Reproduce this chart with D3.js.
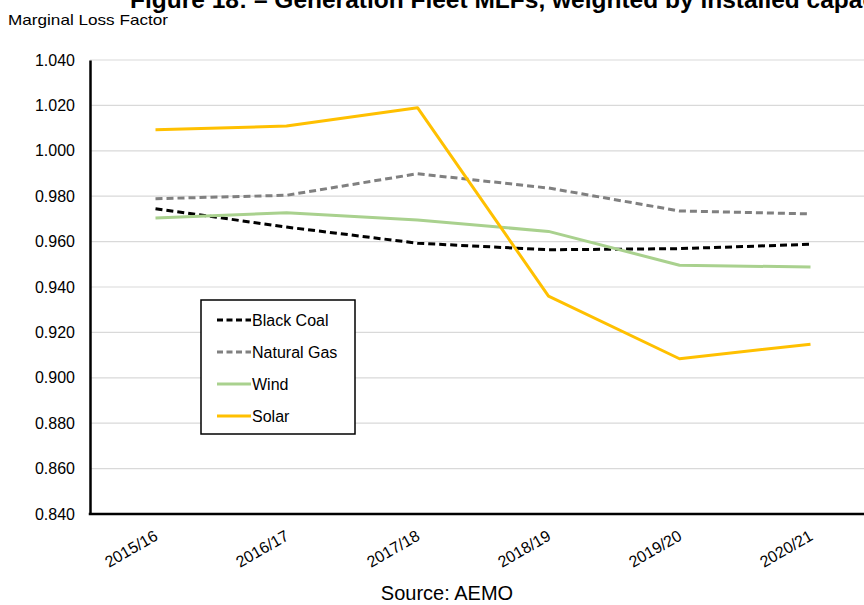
<!DOCTYPE html>
<html>
<head>
<meta charset="utf-8">
<script src="https://cdn.jsdelivr.net/npm/d3@7"></script>
<style>
  html, body { margin: 0; padding: 0; background: #fff; }
  svg { display: block; font-family: "Liberation Sans", Arial, sans-serif; }
</style>
</head>
<body>
<svg id="chart" width="864" height="605"></svg>
<script>
// Financial years on the x axis
const years = ["2015/16", "2016/17", "2017/18", "2018/19", "2019/20", "2020/21"];

// Capacity-weighted marginal loss factors by technology
const blackCoal  = [0.9745, 0.9664, 0.9593, 0.9564, 0.9569, 0.9588];
const naturalGas = [0.9789, 0.9804, 0.9899, 0.9836, 0.9735, 0.9722];
const wind       = [0.9704, 0.9727, 0.9695, 0.9645, 0.9496, 0.9488];
const solar      = [1.0093, 1.0109, 1.0190, 0.9360, 0.9084, 0.9148];

// Y axis ticks
const yTicks = [0.84, 0.86, 0.88, 0.90, 0.92, 0.94, 0.96, 0.98, 1.00, 1.02, 1.04];

const seriesList = [
  { name: "Black Coal",  values: blackCoal,  color: "#000000", dash: "7,4" },
  { name: "Natural Gas", values: naturalGas, color: "#808080", dash: "7,4" },
  { name: "Wind",        values: wind,       color: "#A9D18E", dash: null },
  { name: "Solar",       values: solar,      color: "#FFC000", dash: null }
];

const svg = d3.select("#chart");

const plot = { left: 90, right: 876, top: 60, bottom: 514 };

const x = d3.scalePoint()
  .domain(years)
  .range([plot.left, plot.right])
  .padding(0.5);

const y = d3.scaleLinear()
  .domain([0.84, 1.04])
  .range([plot.bottom, plot.top]);

// Title (runs past the top edge of the page)
svg.append("text")
  .attr("x", 130)
  .attr("y", 8)
  .attr("font-size", 24.5)
  .attr("font-weight", "bold")
  .attr("fill", "#000")
  .text("Figure 18: \u2013 Generation Fleet MLFs, weighted by installed capacity");

// Y axis caption
svg.append("text")
  .attr("x", 8)
  .attr("y", 24.5)
  .attr("font-size", 15)
  .attr("fill", "#000")
  .attr("textLength", 160)
  .attr("lengthAdjust", "spacingAndGlyphs")
  .text("Marginal Loss Factor");

// Horizontal gridlines
svg.append("g")
  .selectAll("line")
  .data(yTicks.filter(t => t > 0.84))
  .join("line")
  .attr("x1", plot.left)
  .attr("x2", plot.right)
  .attr("y1", d => y(d))
  .attr("y2", d => y(d))
  .attr("stroke", "#d9d9d9")
  .attr("stroke-width", 1.2);

// Y axis
const yAxis = svg.append("g")
  .attr("transform", `translate(${plot.left},0)`)
  .call(d3.axisLeft(y).tickValues(yTicks).tickFormat(d3.format(".3f")).tickSize(0).tickPadding(15));
yAxis.select(".domain").attr("stroke", "#000").attr("stroke-width", 2.5);
yAxis.selectAll("text").attr("font-size", 16).attr("fill", "#000")
  .attr("font-family", "'Liberation Sans', Arial, sans-serif");

// X axis
const xAxis = svg.append("g")
  .attr("transform", `translate(0,${plot.bottom})`)
  .call(d3.axisBottom(x).tickSize(0).tickPadding(0));
xAxis.select(".domain").attr("stroke", "#000").attr("stroke-width", 2.5)
  .attr("d", `M${plot.left - 1.25},0H${plot.right}`);
xAxis.selectAll("text")
  .attr("font-size", 16)
  .attr("fill", "#000")
  .attr("font-family", "'Liberation Sans', Arial, sans-serif")
  .attr("text-anchor", "end")
  .attr("dy", null)
  .attr("transform", "translate(3,25) rotate(-30)");

// Series lines
const line = d3.line()
  .x((d, i) => x(years[i]))
  .y(d => y(d));

svg.append("g")
  .selectAll("path")
  .data(seriesList)
  .join("path")
  .attr("d", d => line(d.values))
  .attr("fill", "none")
  .attr("stroke", d => d.color)
  .attr("stroke-width", 3)
  .attr("stroke-dasharray", d => d.dash)
  .attr("stroke-linejoin", "round");

// Legend
const legend = svg.append("g").attr("transform", "translate(201,300)");
legend.append("rect")
  .attr("x", 0).attr("y", 0)
  .attr("width", 154).attr("height", 134)
  .attr("fill", "#fff")
  .attr("stroke", "#000")
  .attr("stroke-width", 1.5);

const items = legend.selectAll("g.item")
  .data(seriesList)
  .join("g")
  .attr("class", "item")
  .attr("transform", (d, i) => `translate(0,${20 + i * 32})`);

items.append("line")
  .attr("x1", 16).attr("x2", 50)
  .attr("y1", 0).attr("y2", 0)
  .attr("stroke", d => d.color)
  .attr("stroke-width", 3)
  .attr("stroke-dasharray", d => d.dash ? "6,3.5" : null);

items.append("text")
  .attr("x", 51)
  .attr("y", 5.5)
  .attr("font-size", 16)
  .attr("fill", "#000")
  .text(d => d.name);

// Source note
svg.append("text")
  .attr("x", 447)
  .attr("y", 600)
  .attr("text-anchor", "middle")
  .attr("font-size", 20)
  .attr("fill", "#000")
  .text("Source: AEMO");
</script>
</body>
</html>
